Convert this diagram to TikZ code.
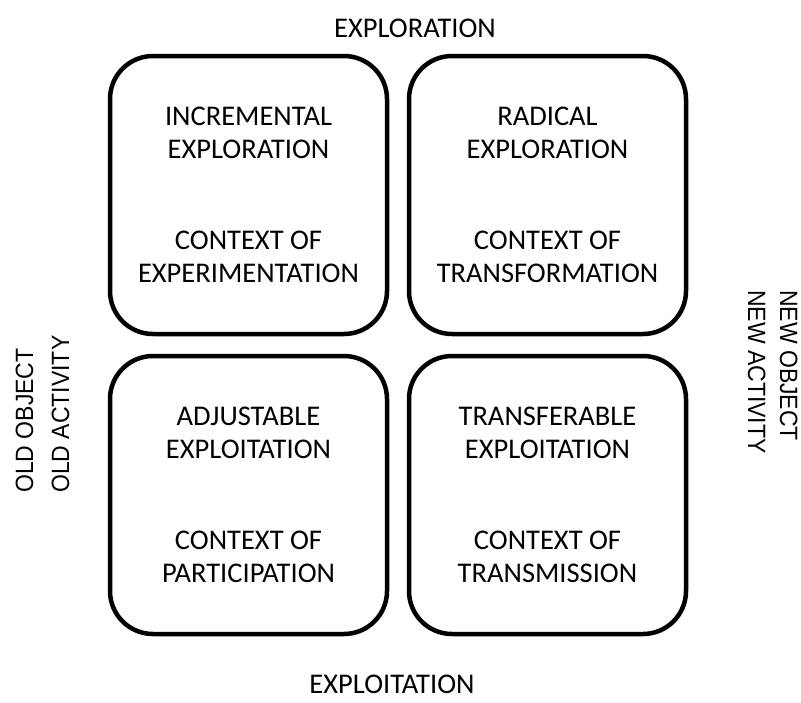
\documentclass[tikz,border=0pt]{standalone}
\usepackage{fontspec}
\setmainfont{Carlito}
\newfontfamily\sidefont{Liberation Sans}
\begin{document}
\begin{tikzpicture}[x=1pt,y=-1pt,
  quad/.style={draw, line width=4.5pt, rounded corners=43pt,
    minimum width=277pt, minimum height=278pt, align=center, inner sep=0pt,
    font=\fontsize{28.5}{33}\selectfont},
  axislabel/.style={font=\fontsize{28.5}{33}\selectfont, inner sep=0pt},
  sidelabel/.style={font=\sidefont\fontsize{25}{30}\selectfont, inner sep=0pt}]
\useasboundingbox (0,0) rectangle (801,702);
\node[quad] (tl) at (248.5,195) {INCREMENTAL\\EXPLORATION\\[58pt]CONTEXT OF\\EXPERIMENTATION};
\node[quad] (tr) at (547.5,195) {RADICAL\\EXPLORATION\\[58pt]CONTEXT OF\\TRANSFORMATION};
\node[quad] (bl) at (248.5,495) {ADJUSTABLE\\EXPLOITATION\\[58pt]CONTEXT OF\\PARTICIPATION};
\node[quad] (br) at (547.5,495) {TRANSFERABLE\\EXPLOITATION\\[58pt]CONTEXT OF\\TRANSMISSION};
\node[axislabel, anchor=base] (top) at (415,37) {EXPLORATION};
\node[axislabel, anchor=base] (bottom) at (392,693) {EXPLOITATION};
\node[sidelabel, anchor=base west, rotate=90] (oldobj) at (33,493) {\scalebox{0.92}[1]{OLD OBJECT}};
\node[sidelabel, anchor=base west, rotate=90] (oldact) at (69,493) {\scalebox{0.92}[1]{OLD ACTIVITY}};
\node[sidelabel, anchor=base west, rotate=-90] (newobj) at (780,290) {\scalebox{0.92}[1]{NEW OBJECT}};
\node[sidelabel, anchor=base west, rotate=-90] (newact) at (748,290) {\scalebox{0.92}[1]{NEW ACTIVITY}};
\end{tikzpicture}
\end{document}
